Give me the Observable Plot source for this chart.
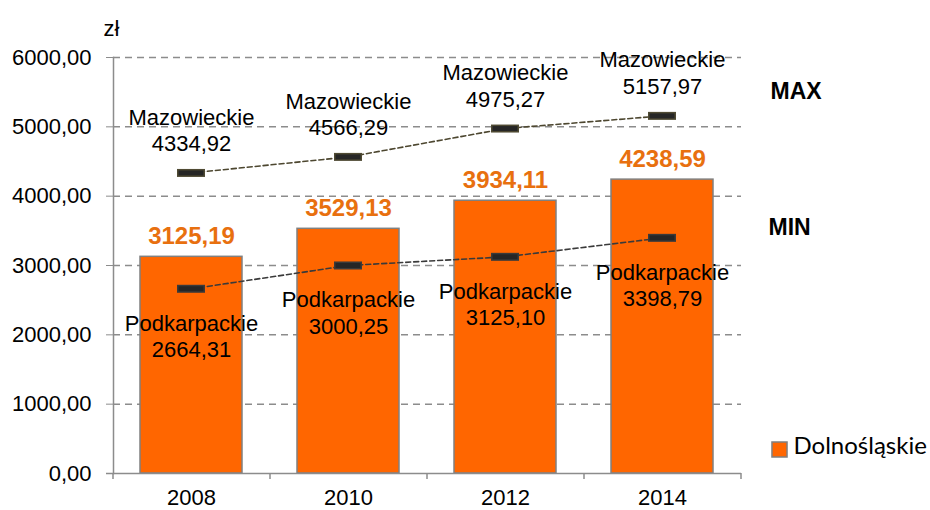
<!DOCTYPE html>
<html><head><meta charset="utf-8">
<script src="https://cdn.jsdelivr.net/npm/d3@7"></script>
<script src="https://cdn.jsdelivr.net/npm/@observablehq/plot@0.6"></script>
<style>
body{margin:0;background:#fff}
#chart{position:relative;width:930px;height:510px}
svg{overflow:visible}
</style>
</head><body><div id="chart"></div>
<script>
const years = ["2008", "2010", "2012", "2014"];
const dolnoslaskie = [3125.19, 3529.13, 3934.11, 4238.59];
const maxRegion = "Mazowieckie";
const maxValues = [4334.92, 4566.29, 4975.27, 5157.97];
const minRegion = "Podkarpackie";
const minValues = [2664.31, 3000.25, 3125.10, 3398.79];
const yTicks = [0, 1000, 2000, 3000, 4000, 5000, 6000];
const unitLabel = "zł";
const seriesLabel = "Dolnośląskie";
const maxLabel = "MAX";
const minLabel = "MIN";

const fmt = v => v.toFixed(2).replace(".", ",");
const rows = years.map((y, i) => ({year: y, bar: dolnoslaskie[i], max: maxValues[i], min: minValues[i]}));
const font = "'Liberation Sans', Arial, sans-serif";
const stepPx = 157;

const plot = Plot.plot({
  width: 930, height: 510,
  marginLeft: 113, marginRight: 189, marginTop: 57, marginBottom: 37,
  style: {fontFamily: font, fontSize: "22px", color: "#000", background: "#fff", overflow: "visible"},
  x: {domain: years, type: "band", paddingInner: 0.35, paddingOuter: 0.172},
  y: {domain: [0, 6000]},
  marks: [
    Plot.gridY(yTicks.filter(d => d > 0), {stroke: "#8c8c8c", strokeOpacity: 1, strokeWidth: 1.5, strokeDasharray: "7,5"}),
    Plot.barY(rows, {x: "year", y: "bar", fill: "#ff6600", stroke: "#808080", strokeWidth: 1.5}),
    Plot.ruleY([0], {stroke: "#8c8c8c", strokeWidth: 1.5, insetLeft: -7}),
    Plot.frame({anchor: "left", stroke: "#8c8c8c", strokeWidth: 1.5}),
    Plot.ruleX(rows, {x: "year", y1: 0, y2: 0, dx: -stepPx / 2, insetBottom: -6, stroke: "#8c8c8c", strokeWidth: 1.5}),
    Plot.ruleX(rows.slice(-1), {x: "year", y1: 0, y2: 0, dx: stepPx / 2, insetBottom: -6, stroke: "#8c8c8c", strokeWidth: 1.5}),
    Plot.axisY(yTicks, {tickFormat: fmt, tickSize: 7, tickPadding: 15, stroke: "#8c8c8c", fill: "#000", fontSize: 22, label: null}),
    Plot.axisX({tickSize: 0, tickPadding: 16, fill: "#000", fontSize: 22, label: null}),
    // connecting dashed lines
    Plot.line(rows, {x: "year", y: "max", stroke: "#4d4730", strokeWidth: 1.6, strokeDasharray: "5,3"}),
    Plot.line(rows, {x: "year", y: "min", stroke: "#3a3a3a", strokeWidth: 1.6, strokeDasharray: "5,3"}),
    // markers
    Plot.tickY(rows, {x: "year", y: "max", stroke: "#4f4a33", strokeWidth: 8, insetLeft: 37, insetRight: 37}),
    Plot.tickY(rows, {x: "year", y: "max", stroke: "#262626", strokeWidth: 5, insetLeft: 38.5, insetRight: 38.5}),
    Plot.tickY(rows, {x: "year", y: "min", stroke: "#3a3a3a", strokeWidth: 8, insetLeft: 37, insetRight: 37}),
    Plot.tickY(rows, {x: "year", y: "min", stroke: "#262626", strokeWidth: 5, insetLeft: 38.5, insetRight: 38.5}),
    // labels
    Plot.text(rows, {x: "year", y: "max", text: d => maxRegion + "\n" + fmt(d.max), lineAnchor: "bottom", dy: -22, fontSize: 22, lineHeight: 1.2, fill: "#000"}),
    Plot.text(rows, {x: "year", y: "min", text: d => minRegion + "\n" + fmt(d.min), lineAnchor: "top", dy: 23, fontSize: 22, lineHeight: 1.2, fill: "#000"}),
    Plot.text(rows, {x: "year", y: "bar", text: d => fmt(d.bar), lineAnchor: "bottom", dy: -13, fontSize: 24, fontWeight: "bold", fill: "#e8700f"}),
    // annotations
    Plot.text([unitLabel], {frameAnchor: "top-left", text: d => d, dx: -10, dy: -37, fontSize: 22, fill: "#000"}),
    Plot.text([maxLabel], {frameAnchor: "top-right", text: d => d, textAnchor: "start", dx: 29, dy: 25, fontSize: 23, fontWeight: "bold", fill: "#000"}),
    Plot.text([minLabel], {frameAnchor: "top-right", text: d => d, textAnchor: "start", dx: 27, dy: 161, fontSize: 23, fontWeight: "bold", fill: "#000"}),
    Plot.dot([seriesLabel], {frameAnchor: "bottom-right", symbol: "square", r: 8.5, fill: "#ff6600", stroke: "#808080", strokeWidth: 1.5, dx: 38, dy: -24}),
    Plot.text([seriesLabel], {frameAnchor: "bottom-right", text: d => d, textAnchor: "start", dx: 52, dy: -20, fontSize: 24, fontFamily: "Lato, 'Open Sans', sans-serif", fill: "#000"})
  ]
});
document.getElementById("chart").appendChild(plot);
</script>
</body></html>
